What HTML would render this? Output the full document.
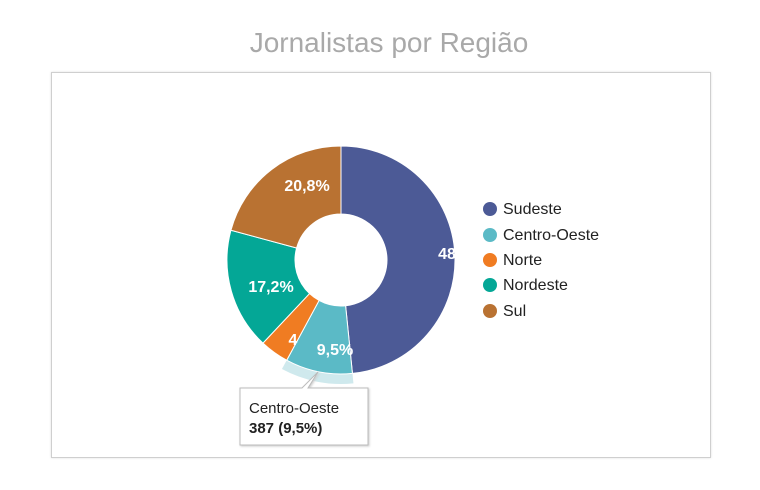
<!DOCTYPE html>
<html><head><meta charset="utf-8"><style>
body{margin:0;width:760px;height:490px;background:#fff;font-family:"Liberation Sans",sans-serif;position:relative;overflow:hidden}
.title{position:absolute;left:0;width:778px;top:27px;text-align:center;font-size:28px;color:#a9a9a9}
.frame{position:absolute;left:51px;top:72px;width:658px;height:384px;border:1px solid #cfcfcf;box-shadow:0 0 2px #ddd}
svg{position:absolute;left:0;top:0}
</style></head><body>
<div class="title">Jornalistas por Região</div>
<div class="frame"></div>
<svg width="760" height="490" id="s"></svg>
<script>
var cx=341,cy=260,R=114,r=46;
var d=[["Sudeste",48.4,"#4c5a96"],["Centro-Oeste",9.5,"#5bbac6"],["Norte",4.1,"#f07c22"],["Nordeste",17.2,"#04a796"],["Sul",20.8,"#b97232"]];
var s='',a=0;
function p(rad,ang){return [cx+rad*Math.sin(ang),cy-rad*Math.cos(ang)];}
function arc(a0,a1,R1,r1,col,extra){var l=(a1-a0)>Math.PI?1:0;var A=p(R1,a0),B=p(R1,a1),C=p(r1,a1),D=p(r1,a0);
return '<path d="M'+A+' A'+R1+','+R1+' 0 '+l+' 1 '+B+' L'+C+' A'+r1+','+r1+' 0 '+l+' 0 '+D+' Z" fill="'+col+'" '+(extra||'')+'/>';}
var labels=["48","9,5%","4","17,2%","20,8%"];
var pos=[[447,254],[335,350],[293,340],[271,287],[307,186]];
var lab='';
d.forEach(function(e,i){var a0=a*2*Math.PI/100;a+=e[1];var a1=a*2*Math.PI/100;
if(i==1)s+=arc(a0,a1,124,R,"#cfe9ed");
s+=arc(a0,a1,R,r,e[2],'stroke="#fff" stroke-width="1"');
var q=pos[i];
lab+='<text x="'+q[0]+'" y="'+(q[1]+5)+'" fill="#fff" font-size="16" font-weight="bold" text-anchor="middle">'+labels[i]+'</text>';});
s+=lab;
var ly=[209,235,260,285,311];
d.forEach(function(e,i){s+='<circle cx="490" cy="'+ly[i]+'" r="7" fill="'+e[2]+'"/><text x="503" y="'+(ly[i]+5)+'" font-size="16" fill="#222">'+e[0]+'</text>';});
s+='<path d="M240,388 H302 L318,372 L308,388 H368 V445 H240 Z" fill="#fff" stroke="#bbb" stroke-width="1" filter="drop-shadow(1px 1px 1px #ccc)"/>';
s+='<text x="249" y="413" font-size="15" fill="#222">Centro-Oeste</text><text x="249" y="433" font-size="15" font-weight="bold" fill="#222">387 (9,5%)</text>';
document.getElementById('s').innerHTML=s;
</script>
</body></html>
